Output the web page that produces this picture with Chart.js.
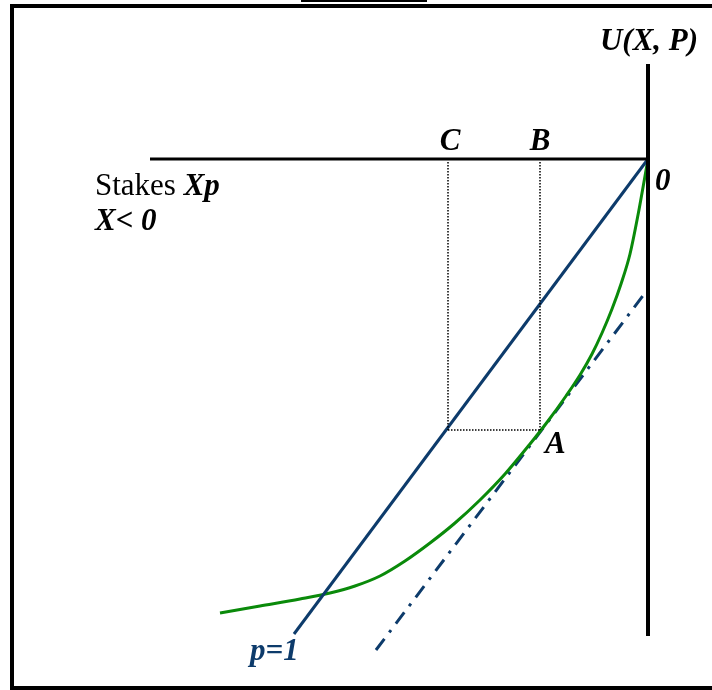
<!DOCTYPE html>
<html>
<head>
<meta charset="utf-8">
<script src="https://cdn.jsdelivr.net/npm/chart.js@4/dist/chart.umd.min.js"></script>
<style>
  body { margin: 0; background: #fff; }
  #wrap { position: relative; width: 712px; height: 690px; overflow: hidden; }
  #frame { position: absolute; left: 10px; top: 4px; width: 730px; height: 686px; border: 4px solid #000; box-sizing: border-box; }
  #topline { position: absolute; left: 301px; top: 0; width: 126px; height: 2px; background: #000; }
  #chart { position: absolute; left: 0; top: 0; }
</style>
</head>
<body>
<div id="wrap">
  <div id="topline"></div>
  <div id="frame"></div>
  <canvas id="chart" width="712" height="690"></canvas>
</div>
<script>
// 軸 (stakes X on the horizontal, utility U on the vertical, origin 0)
const stakeAxisX = [-49.8, 0];
const stakeAxisY = [0, 0];
const utilAxisX = [0, 0];
const utilAxisY = [9.5, -47.7];

// utility curve U(X, P)
const curveX = [-42.8, -38.8, -34.8, -31.8, -29.3, -26.8, -24.3, -21.8, -19.3, -16.8, -14.3,
                -11.8, -10.0, -8.2, -6.8, -5.6, -4.6, -3.6, -2.7, -1.8, -1.0, 0];
const curveY = [-45.4, -44.7, -44.0, -43.4, -42.7, -41.7, -40.2, -38.4, -36.4, -34.1, -31.5,
                -28.5, -26.2, -23.7, -21.6, -19.5, -17.4, -15.0, -12.5, -9.5, -5.6, 0];

// p=1 line
const p1X = [-35.4, 0];
const p1Y = [-47.5, 0];

// tangent at A (dash-dot)
const tangentX = [-27.2, 0];
const tangentY = [-49.1, -13.0];

// dotted guides C, B, A
const pointC = -20.0;
const pointB = -10.8;
const levelA = -27.1;

const labels = ['U(X, P)', 'C', 'B', '0', 'Stakes ', 'Xp', 'X< 0', 'A', 'p=1'];

const pts = (xs, ys) => xs.map((x, i) => ({ x: x, y: ys[i] }));

const navy = '#0d3b6b';
const green = '#0a8a0a';

// テキスト描画用プラグイン
const labelPlugin = {
    id: 'labels',
    afterDatasetsDraw(chart) {
        const ctx = chart.ctx;
        const sx = chart.scales.x, sy = chart.scales.y;
        const bi = 'italic bold 31px "Liberation Serif"';
        const items = [
            { t: labels[0], x: 0.1, y: 10.9, align: 'center', color: '#000' },
            { t: labels[1], x: -19.8, y: 0.9, align: 'center', color: '#000' },
            { t: labels[2], x: -10.8, y: 0.9, align: 'center', color: '#000' },
            { t: labels[3], x: 0.7, y: -3.1, align: 'left', color: '#000' },
            { t: labels[6], x: -55.3, y: -7.1, align: 'left', color: '#000' },
            { t: labels[7], x: -10.3, y: -29.4, align: 'left', color: '#000' },
            { t: labels[8], x: -39.8, y: -50.1, align: 'left', color: navy }
        ];
        ctx.save();
        ctx.textBaseline = 'alphabetic';
        items.forEach(it => {
            ctx.font = bi;
            ctx.fillStyle = it.color;
            ctx.textAlign = it.align;
            ctx.fillText(it.t, sx.getPixelForValue(it.x), sy.getPixelForValue(it.y));
        });
        // Stakes Xp (mixed style)
        let px = sx.getPixelForValue(-55.3);
        const py = sy.getPixelForValue(-3.6);
        ctx.textAlign = 'left';
        ctx.fillStyle = '#000';
        ctx.font = '31px "Liberation Serif"';
        ctx.fillText(labels[4], px, py);
        px += ctx.measureText(labels[4]).width;
        ctx.font = bi;
        ctx.fillText(labels[5], px, py);
        ctx.restore();
    }
};

const ctx = document.getElementById('chart').getContext('2d');
const chart = new Chart(ctx, {
    type: 'scatter',
    data: {
        datasets: [
            { data: pts(stakeAxisX, stakeAxisY), borderColor: '#000', borderWidth: 3 },
            { data: pts(utilAxisX, utilAxisY), borderColor: '#000', borderWidth: 4 },
            { data: pts([pointC, pointC], [-0.3, levelA]), borderColor: '#000', borderWidth: 1.5, borderDash: [1.5, 1.5] },
            { data: pts([pointB, pointB], [-0.3, levelA]), borderColor: '#000', borderWidth: 1.5, borderDash: [1.5, 1.5] },
            { data: pts([pointC, pointB], [levelA, levelA]), borderColor: '#000', borderWidth: 1.5, borderDash: [1.5, 1.5] },
            { data: pts(p1X, p1Y), borderColor: navy, borderWidth: 3 },
            { data: pts(curveX, curveY), borderColor: green, borderWidth: 3, cubicInterpolationMode: 'monotone' },
            { data: pts(tangentX, tangentY), borderColor: navy, borderWidth: 3, borderDash: [14, 8, 3, 8] }
        ].map(d => Object.assign({ showLine: true, pointRadius: 0, pointHoverRadius: 0, fill: false }, d))
    },
    options: {
        responsive: false,
        animation: false,
        layout: { padding: 0 },
        plugins: { legend: { display: false }, tooltip: { enabled: false } },
        scales: {
            x: { type: 'linear', display: false, min: -64.8, max: 6.4 },
            y: { type: 'linear', display: false, min: -53.1, max: 15.9 }
        }
    },
    plugins: [labelPlugin]
});
</script>
</body>
</html>
